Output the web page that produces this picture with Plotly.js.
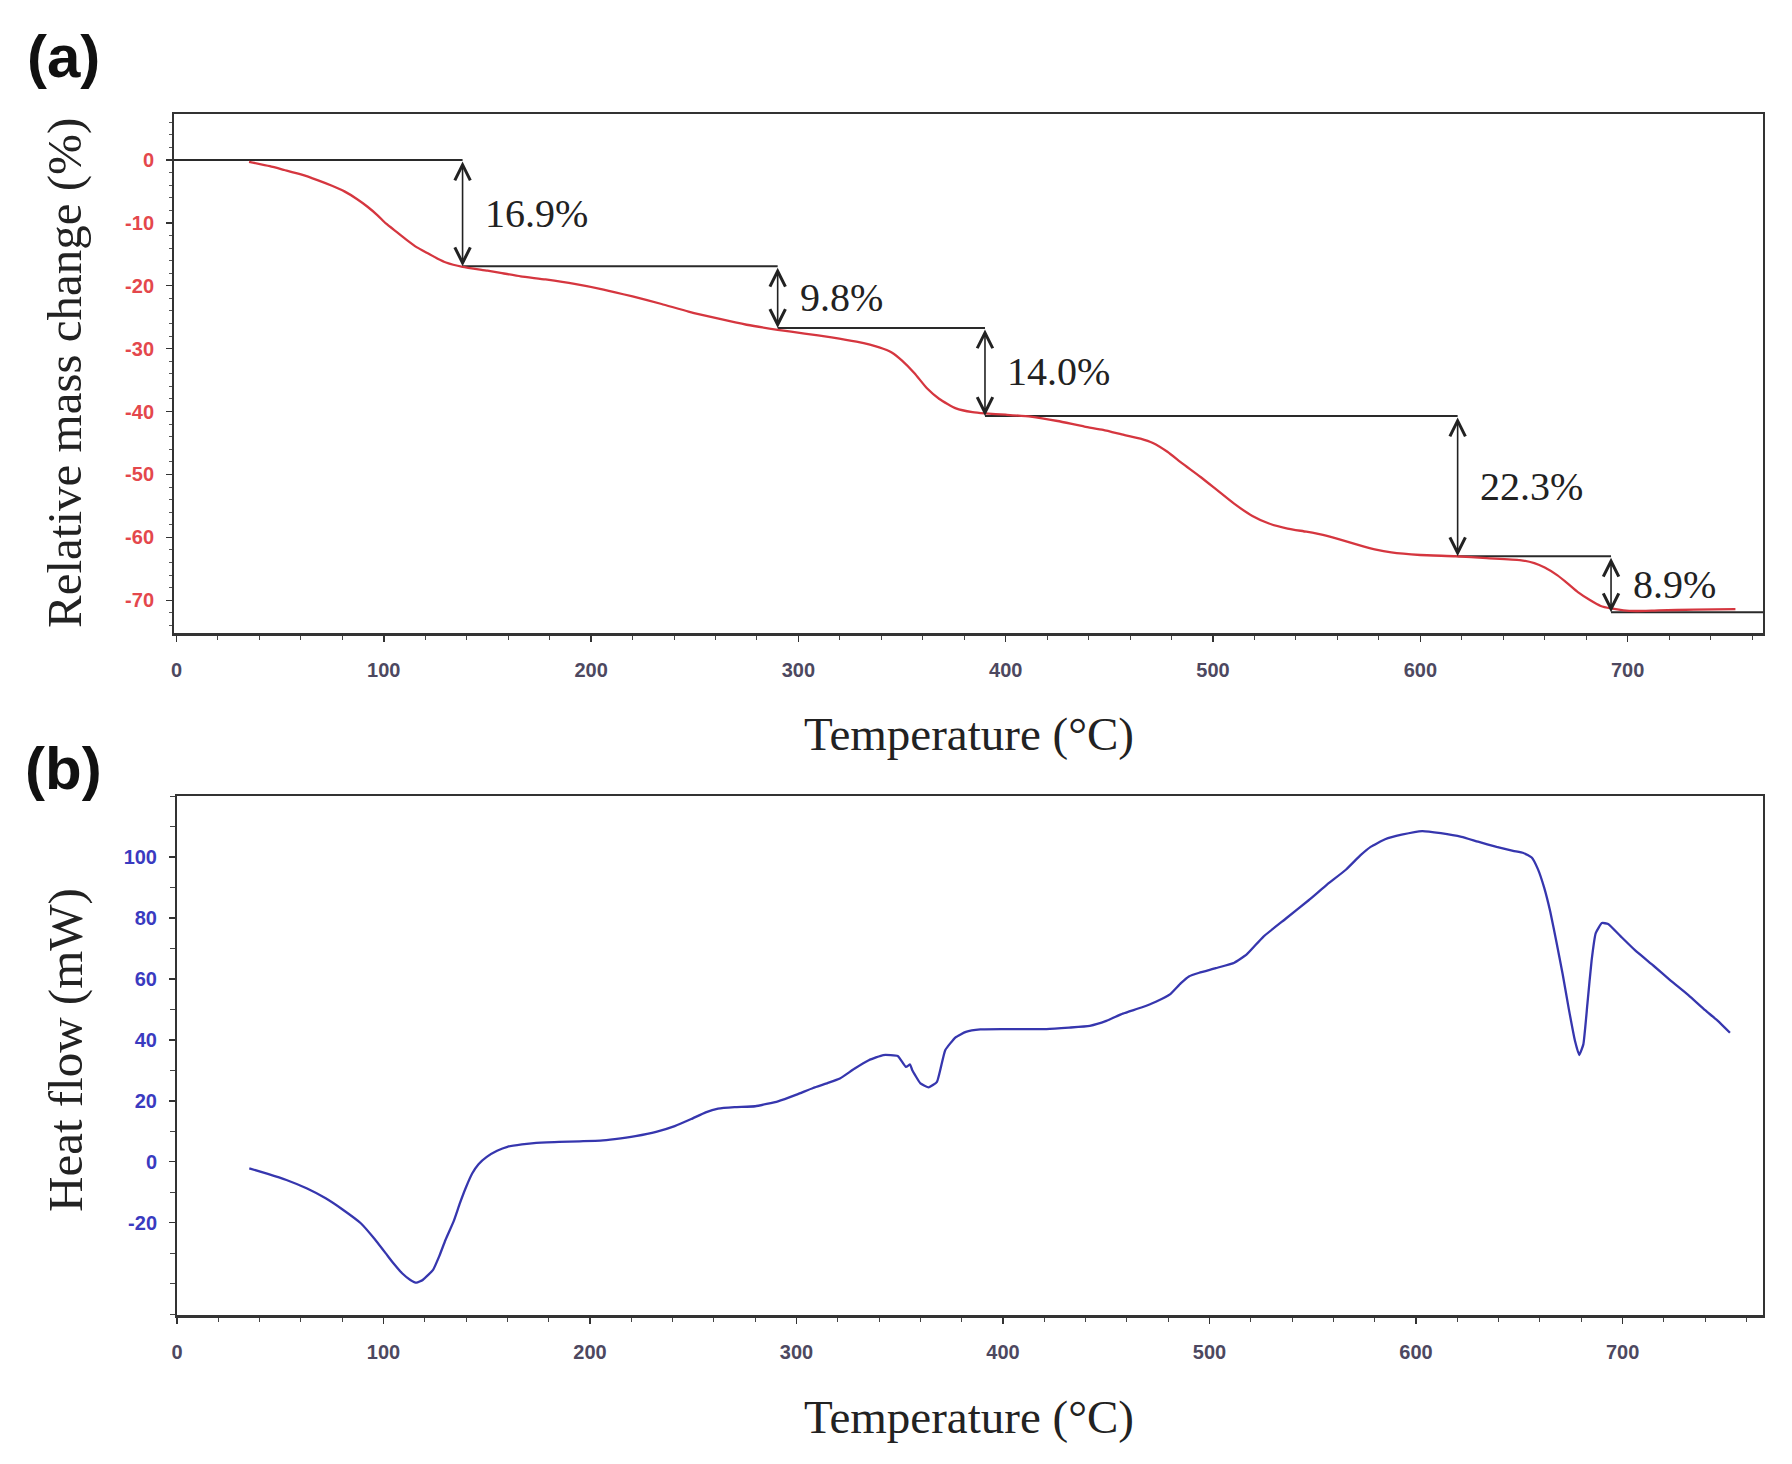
<!DOCTYPE html>
<html>
<head>
<meta charset="utf-8">
<script src="https://cdn.plot.ly/plotly-3.0.1.min.js"></script>
<style>html,body{margin:0;padding:0;background:#fff;}#chart{width:1792px;height:1464px;}</style>
</head>
<body>
<div id="chart"></div>
<script>
// ---- TGA (panel a) ----
const tgaTemp = [35,45,52,60,68,75,81,87,92,97,101,106,111,116,121,126,130,138,150,157,166,178,192,206,220,234,247,261,275,290,303,316,328,339,345,350,356,362,368,376,384,390,400,412,425,438,447,457,465,471,478,485,494,502,510,519,527,536,545,553,561,570,578,586,600,617,632,648,655,660,666,671,676,682,687,692,698,704,715,732,752];
const tgaMass = [-0.3,-1.0,-1.6,-2.3,-3.2,-4.1,-5.0,-6.2,-7.4,-8.8,-10.1,-11.4,-12.7,-13.9,-14.8,-15.7,-16.3,-17.0,-17.6,-18.0,-18.5,-19.0,-19.7,-20.6,-21.7,-22.9,-24.1,-25.2,-26.2,-27.0,-27.6,-28.2,-28.9,-29.8,-30.6,-31.9,-33.9,-36.3,-38.0,-39.5,-40.1,-40.3,-40.5,-40.8,-41.5,-42.4,-42.9,-43.7,-44.3,-45.0,-46.4,-48.2,-50.4,-52.5,-54.6,-56.6,-57.8,-58.6,-59.1,-59.6,-60.3,-61.2,-61.9,-62.4,-62.8,-63.0,-63.3,-63.6,-64.1,-64.8,-66.0,-67.3,-68.7,-70.0,-70.9,-71.3,-71.6,-71.7,-71.6,-71.5,-71.4];

// mass-loss steps
const stepTemp = [138, 290, 390, 618, 692];
const stepLoss = [16.9, 9.8, 14.0, 22.3, 8.9];
const stepLabels = ['16.9%', '9.8%', '14.0%', '22.3%', '8.9%'];

// ---- DSC (panel b) ----
const dscTemp = [35,44,53,63,72,80,89,95,101,105,109,113,116,119,124,127,130,134,137,140,143,146,150,155,160,167,174,185,195,205,212,222,232,241,249,256,262,270,280,291,300,308,315,321,328,335,342,349,353,355,356,360,364,368,372,377,382,389,400,421,432,442,450,458,467,474,481,486,490,495,503,512,518,526,537,548,557,566,573,578,585,593,603,612,622,630,639,647,652,656,659,662,665,668,671,674,677,679,681,683,685,687,690,693,699,706,715,723,732,740,746,752];
const dscHeat = [-2.2,-4.0,-6.0,-8.8,-12.0,-15.6,-20.2,-24.8,-30.0,-33.5,-36.6,-38.8,-39.7,-38.8,-35.5,-31.0,-25.7,-19.5,-13.6,-8.3,-3.8,-0.8,1.6,3.6,4.9,5.7,6.2,6.5,6.7,6.9,7.4,8.4,9.8,11.7,14.0,16.2,17.4,17.9,18.2,19.8,22.0,24.2,25.8,27.3,30.5,33.3,35.0,34.7,31.1,31.9,30.1,25.7,24.4,26.2,36.6,40.8,42.6,43.4,43.5,43.5,44.0,44.6,46.2,48.6,50.6,52.5,55.0,58.5,60.8,62.0,63.5,65.3,68.0,73.8,79.8,85.8,91.0,95.8,100.5,103.3,105.8,107.3,108.5,107.8,106.6,105.0,103.3,102.0,101.3,99.8,96.0,90.0,82.0,72.0,61.5,50.0,39.5,35.0,38.5,52.0,66.0,75.0,78.3,78.0,74.0,69.4,64.3,59.6,54.6,49.7,46.3,42.3];

// ticks
const tempTicks = [0,100,200,300,400,500,600,700];
const tempTickText = ['0','100','200','300','400','500','600','700'];
const massTicks = [0,-10,-20,-30,-40,-50,-60,-70];
const massTickText = ['0','-10','-20','-30','-40','-50','-60','-70'];
const heatTicks = [-20,0,20,40,60,80,100];
const heatTickText = ['-20','0','20','40','60','80','100'];

const xRangeA = [-1.2, 765.3];
const yRangeA = [-75.2, 7.3];
const xRangeB = [0, 768];
const yRangeB = [-50.3, 120];

// step levels from cumulative losses
const levels = [0];
stepLoss.forEach((l, i) => levels.push(Math.round((levels[i] - l) * 10) / 10));

// horizontal guide lines
const hx = [], hy = [];
for (let i = 0; i <= stepTemp.length; i++) {
  const x0 = i === 0 ? xRangeA[0] : stepTemp[i - 1];
  const x1 = i === stepTemp.length ? xRangeA[1] : stepTemp[i];
  hx.push(x0, x1, null);
  hy.push(levels[i], levels[i], null);
}

const traces = [
  {x: hx, y: hy, xaxis: 'x', yaxis: 'y', mode: 'lines', line: {color: '#2a2a2a', width: 2}, hoverinfo: 'skip', showlegend: false},
  {x: tgaTemp, y: tgaMass, xaxis: 'x', yaxis: 'y', mode: 'lines', line: {color: '#d5363f', width: 2.3, shape: 'spline', smoothing: 0.5}, showlegend: false, name: 'TGA'},
  {x: dscTemp, y: dscHeat, xaxis: 'x2', yaxis: 'y2', mode: 'lines', line: {color: '#3636ae', width: 2.3, shape: 'spline', smoothing: 0.4}, showlegend: false, name: 'DSC'}
];

const annotations = [];
stepTemp.forEach((t, i) => {
  annotations.push({
    x: t, y: levels[i + 1], ax: t, ay: levels[i],
    xref: 'x', yref: 'y', axref: 'x', ayref: 'y',
    text: '', showarrow: true, arrowhead: 5, startarrowhead: 5, arrowside: 'end+start',
    arrowsize: 1.9, startarrowsize: 1.9, arrowwidth: 1.6, arrowcolor: '#222',
    standoff: 0, startstandoff: 0
  });
  annotations.push({
    x: t, y: (levels[i] + levels[i + 1]) / 2, xref: 'x', yref: 'y',
    text: stepLabels[i], showarrow: false, xanchor: 'left', yanchor: 'middle', xshift: 20,
    font: {family: 'Liberation Serif, Times New Roman, serif', size: 40, color: '#222'}
  });
});

const titleFont = {family: 'Liberation Serif, Times New Roman, serif', size: 49, color: '#222'};
annotations.push(
  {xref: 'paper', yref: 'paper', x: 65/1792, y: 1 - 373/1464, text: 'Relative mass change (%)', textangle: -90, showarrow: false, font: titleFont, xanchor: 'center', yanchor: 'middle'},
  {xref: 'paper', yref: 'paper', x: 65/1792, y: 1 - 1050/1464, text: 'Heat flow (mW)', textangle: -90, showarrow: false, font: titleFont, xanchor: 'center', yanchor: 'middle'},
  {xref: 'paper', yref: 'paper', x: 969/1792, y: 1 - 734/1464, text: 'Temperature (°C)', showarrow: false, font: {family: titleFont.family, size: 47, color: '#222'}, xanchor: 'center', yanchor: 'middle'},
  {xref: 'paper', yref: 'paper', x: 969/1792, y: 1 - 1417/1464, text: 'Temperature (°C)', showarrow: false, font: {family: titleFont.family, size: 47, color: '#222'}, xanchor: 'center', yanchor: 'middle'},
  {xref: 'paper', yref: 'paper', x: 63/1792, y: 1 - 57/1464, text: '<b>(a)</b>', showarrow: false, font: {family: 'Liberation Sans, Arial, sans-serif', size: 60, color: '#111'}, xanchor: 'center', yanchor: 'middle'},
  {xref: 'paper', yref: 'paper', x: 63/1792, y: 1 - 768/1464, text: '<b>(b)</b>', showarrow: false, font: {family: 'Liberation Sans, Arial, sans-serif', size: 60, color: '#111'}, xanchor: 'center', yanchor: 'middle'}
);

const tickFontX = {family: 'Liberation Sans, Arial, sans-serif', size: 20, color: '#4d4860', weight: 'bold'};
function xAxis(domain, range, anchor) {
  return {
    domain: domain, range: range, anchor: anchor,
    tickmode: 'array', tickvals: tempTicks, ticktext: tempTickText,
    tickfont: tickFontX, ticks: 'outside', ticklen: 6, tickwidth: 1.5, tickcolor: '#333',
    minor: {tickmode: 'linear', tick0: 0, dtick: 20, ticks: 'outside', ticklen: 4, tickcolor: '#444', tickwidth: 1},
    showline: true, mirror: true, linecolor: '#333', linewidth: 2.5,
    showgrid: false, zeroline: false, ticklabelstandoff: 11, fixedrange: true
  };
}

const layout = {
  width: 1792, height: 1464,
  margin: {l: 0, r: 0, t: 0, b: 0},
  paper_bgcolor: '#fff', plot_bgcolor: '#fff',
  showlegend: false,
  xaxis: xAxis([174/1792, 1763/1792], xRangeA, 'y'),
  yaxis: {
    domain: [1 - 633/1464, 1 - 114/1464], range: yRangeA, anchor: 'x',
    tickmode: 'array', tickvals: massTicks, ticktext: massTickText,
    tickfont: {family: 'Liberation Sans, Arial, sans-serif', size: 20, color: '#e4474c', weight: 'bold'},
    ticks: 'outside', ticklen: 6, tickwidth: 1.5, tickcolor: '#333',
    minor: {tickmode: 'linear', tick0: 0, dtick: 2, ticks: 'outside', ticklen: 3, tickcolor: '#555', tickwidth: 1},
    showline: true, mirror: true, linecolor: '#333', linewidth: 2,
    showgrid: false, zeroline: false, ticklabelstandoff: 8, fixedrange: true
  },
  xaxis2: xAxis([177/1792, 1763/1792], xRangeB, 'y2'),
  yaxis2: {
    domain: [1 - 1315/1464, 1 - 796/1464], range: yRangeB, anchor: 'x2',
    tickmode: 'array', tickvals: heatTicks, ticktext: heatTickText,
    tickfont: {family: 'Liberation Sans, Arial, sans-serif', size: 20, color: '#3a3ac0', weight: 'bold'},
    ticks: 'outside', ticklen: 6, tickwidth: 1.5, tickcolor: '#333',
    minor: {tickmode: 'linear', tick0: 0, dtick: 10, ticks: 'outside', ticklen: 5, tickcolor: '#444', tickwidth: 1},
    showline: true, mirror: true, linecolor: '#333', linewidth: 2,
    showgrid: false, zeroline: false, ticklabelstandoff: 8, fixedrange: true
  },
  annotations: annotations
};

Plotly.newPlot('chart', traces, layout, {staticPlot: true, displayModeBar: false});
</script>
</body>
</html>
